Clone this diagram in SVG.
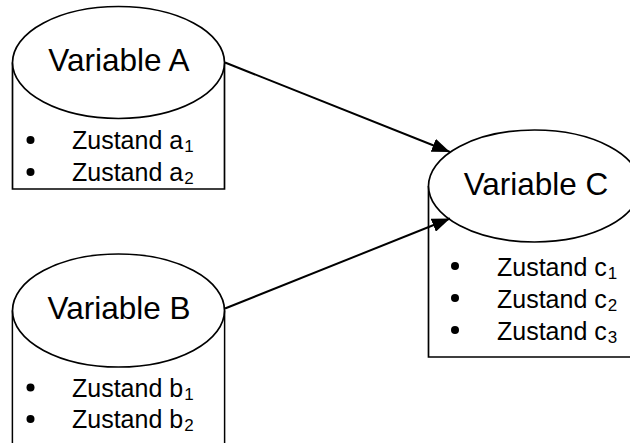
<svg xmlns="http://www.w3.org/2000/svg" width="630" height="443" viewBox="0 0 630 443">
  <style>
    .frame { fill: #fff; stroke: #000; stroke-width: 1.7; }
    .head { fill: #fff; stroke: #000; stroke-width: 1.7; }
    .title { font-family: "Liberation Sans", Arial, sans-serif; font-size: 31.5px; fill: #000; text-anchor: middle; }
    .item { font-family: "Liberation Sans", Arial, sans-serif; font-size: 25px; fill: #000; }
    .sub { font-size: 17px; }
    .dot { fill: #000; }
    .edge { stroke: #000; stroke-width: 2; fill: none; marker-end: url(#arrow); }
  </style>
  <defs>
    <marker id="arrow" markerUnits="userSpaceOnUse" markerWidth="20" markerHeight="14" refX="18" refY="7" orient="auto">
      <path d="M0,0 L18,7 L0,14 z" fill="#000"/>
    </marker>
  </defs>
  <rect width="630" height="443" fill="#fff"/>

  <g id="var-a">
    <path class="frame" d="M12.5,62.5 V189 H224.5 V62.5"/>
    <ellipse class="head" cx="118.5" cy="62.5" rx="106" ry="56"/>
    <text class="title" x="119" y="71">Variable A</text>
    <circle class="dot" cx="30.5" cy="140" r="4"/>
    <text class="item" x="72" y="149">Zustand a<tspan class="sub" dx="1" dy="3">1</tspan></text>
    <circle class="dot" cx="30.5" cy="172" r="4"/>
    <text class="item" x="72" y="181">Zustand a<tspan class="sub" dx="1" dy="3">2</tspan></text>
  </g>

  <g id="var-b">
    <path class="frame" d="M12.5,310.5 V450 M224.5,450 V310.5"/>
    <rect x="13.4" y="310.5" width="210.2" height="140" fill="#fff"/>
    <ellipse class="head" cx="118.5" cy="310.5" rx="106" ry="56.5"/>
    <text class="title" x="119" y="319">Variable B</text>
    <circle class="dot" cx="30.5" cy="387.5" r="4"/>
    <text class="item" x="72" y="396.5">Zustand b<tspan class="sub" dx="1" dy="3">1</tspan></text>
    <circle class="dot" cx="30.5" cy="419" r="4"/>
    <text class="item" x="72" y="428">Zustand b<tspan class="sub" dx="1" dy="3">2</tspan></text>
  </g>

  <g id="var-c">
    <path class="frame" d="M428.5,186 V357 H645 V186"/>
    <ellipse class="head" cx="534.5" cy="186" rx="106" ry="56"/>
    <text class="title" x="536" y="195">Variable C</text>
    <circle class="dot" cx="455" cy="266" r="4"/>
    <text class="item" x="497" y="276">Zustand c<tspan class="sub" dx="1" dy="3">1</tspan></text>
    <circle class="dot" cx="455" cy="298" r="4"/>
    <text class="item" x="497" y="308">Zustand c<tspan class="sub" dx="1" dy="3">2</tspan></text>
    <circle class="dot" cx="455" cy="330" r="4"/>
    <text class="item" x="497" y="340">Zustand c<tspan class="sub" dx="1" dy="3">3</tspan></text>
  </g>

  <g id="connectors">
    <line class="edge" x1="225" y1="62.5" x2="450" y2="152"/>
    <line class="edge" x1="225" y1="308.5" x2="450" y2="218.5"/>
  </g>
</svg>
